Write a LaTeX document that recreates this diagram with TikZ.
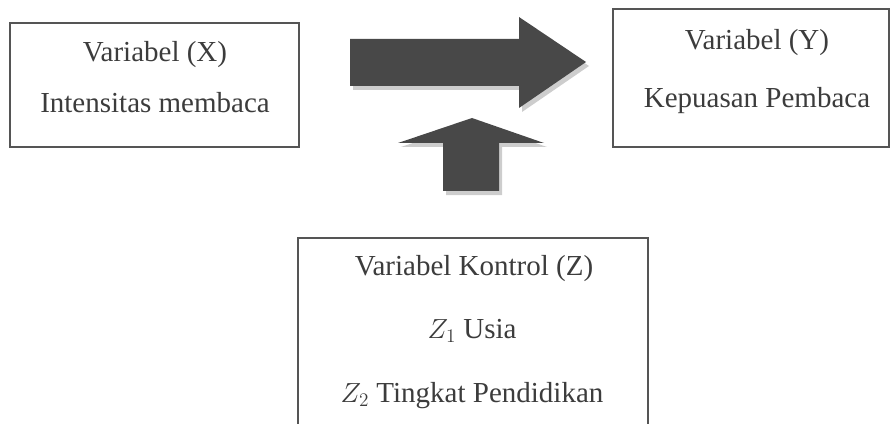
\documentclass[tikz,border=0pt]{standalone}
\usepackage{fontspec}
\setmainfont{Liberation Serif}

\definecolor{boxgray}{HTML}{555555}
\definecolor{arrowgray}{HTML}{484848}
\definecolor{shadowgray}{HTML}{CDCDCD}
\definecolor{textgray}{HTML}{3C3C3C}

\tikzset{
  varbox/.style={draw=boxgray, line width=1.5pt, inner sep=0pt},
  varlabel/.style={anchor=base, inner sep=0pt, text=textgray,
    font=\fontsize{21.75}{26}\selectfont},
}

\begin{document}
\begin{tikzpicture}[x=0.75pt, y=-0.75pt]
  \clip (0,0) rectangle (892,424);

  % the three boxes
  \node [varbox, minimum width=216.75pt, minimum height=93pt] (boxx) at (154.5,85) {};
  \node [varbox, minimum width=207pt, minimum height=103.5pt] (boxy) at (751,78) {};
  \node [varbox, minimum width=262.5pt, minimum height=151.5pt] (boxz) at (473,339) {};

  \node [varlabel] (xname) at (155,62) {Variabel (X)};
  \node [varlabel] (xtext) at (155,113) {Intensitas membaca};
  \node [varlabel] (yname) at (757,50) {Variabel (Y)};
  \node [varlabel] (ytext) at (757,108) {Kepuasan Pembaca};
  \node [varlabel] (zname) at (474,275) {Variabel Kontrol (Z)};
  \node [varlabel] (zone) at (472,338) {$Z_1$ Usia};
  \node [varlabel] (ztwo) at (472,402) {$Z_2$ Tingkat Pendidikan};

  % block arrows, shadow first
  \fill [shadowgray, shift={(3,4)}] (350,39) -- (519,39) -- (519,17) -- (586,62) -- (519,108) -- (519,86) -- (350,86) -- cycle;
  \fill [arrowgray] (350,39) -- (519,39) -- (519,17) -- (586,62) -- (519,108) -- (519,86) -- (350,86) -- cycle;
  \fill [shadowgray, shift={(3,4)}] (443,191) -- (443,143) -- (398,143) -- (472,118) -- (544,143) -- (499,143) -- (499,191) -- cycle;
  \fill [arrowgray] (443,191) -- (443,143) -- (398,143) -- (472,118) -- (544,143) -- (499,143) -- (499,191) -- cycle;
\end{tikzpicture}
\end{document}
